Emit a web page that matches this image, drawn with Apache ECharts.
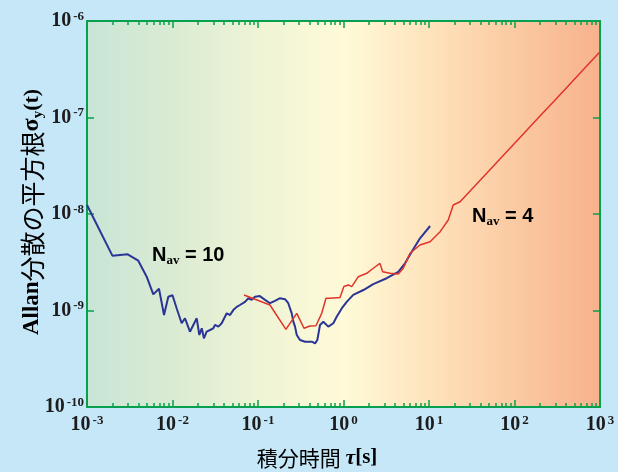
<!DOCTYPE html>
<html><head><meta charset="utf-8">
<script src="https://cdn.jsdelivr.net/npm/echarts@6/dist/echarts.min.js"></script>
<style>html,body{margin:0;padding:0;background:#c6e7f8;}#c{width:618px;height:472px;}</style>
</head><body><div id="c"></div>
<script>
const xTicks = [1e-3, 1e-2, 1e-1, 1, 10, 100, 1000];
const yTicks = [1e-10, 1e-9, 1e-8, 1e-7, 1e-6];
const minorMultipliers = [2, 3, 4, 5, 6, 7, 8, 9];

const blueX = [0.001,0.00198,0.00299,0.00398,0.00499,0.00596,0.00695,0.00796,0.00893,0.0100,0.0112,0.0128,0.0140,0.0160,0.0192,0.0206,0.0220,0.0233,0.0251,0.0275,0.0300,0.0314,0.0344,0.0376,0.0393,0.0431,0.0471,0.0514,0.0564,0.0615,0.0705,0.0771,0.0843,0.0923,0.105,0.121,0.138,0.158,0.181,0.207,0.226,0.248,0.259,0.271,0.284,0.310,0.355,0.425,0.465,0.494,0.531,0.581,0.664,0.760,0.832,0.953,1.09,1.30,1.71,2.23,3.20,4.37,5.24,6.28,7.85,10.3];
const blueY = [1.24e-8,3.70e-9,3.82e-9,3.28e-9,2.24e-9,1.47e-9,1.68e-9,8.98e-10,1.39e-9,1.44e-9,1.05e-9,7.37e-10,8.3e-10,6.03e-10,8.3e-10,5.57e-10,6.54e-10,5.15e-10,6.03e-10,6.28e-10,6.54e-10,7.08e-10,6.80e-10,7.37e-10,7.97e-10,9.35e-10,8.98e-10,1.01e-9,1.09e-9,1.14e-9,1.23e-9,1.34e-9,1.29e-9,1.39e-9,1.41e-9,1.29e-9,1.19e-9,1.26e-9,1.34e-9,1.31e-9,1.19e-9,9.35e-10,7.66e-10,6.80e-10,5.57e-10,4.94e-10,4.75e-10,4.75e-10,4.57e-10,4.94e-10,7.08e-10,7.66e-10,6.80e-10,7.37e-10,8.63e-10,1.05e-9,1.23e-9,1.45e-9,1.63e-9,1.88e-9,2.16e-9,2.52e-9,3.08e-9,4.06e-9,5.60e-9,7.51e-9];

const redX = [0.0686,0.138,0.212,0.284,0.345,0.406,0.476,0.556,0.624,0.695,0.910,1.01,1.14,1.25,1.49,1.87,2.23,2.67,2.87,3.50,4.37,5.00,6.00,7.85,10.3,13.5,16.8,19.2,23.1,39.4,47.3,67.6,116,174,284,446,668,1000];
const redY = [1.45e-9,1.14e-9,6.38e-10,9.35e-10,6.54e-10,6.91e-10,6.95e-10,9.35e-10,1.34e-9,1.34e-9,1.36e-9,1.77e-9,1.84e-9,1.77e-9,2.24e-9,2.43e-9,2.74e-9,3.08e-9,2.52e-9,2.43e-9,2.39e-9,2.74e-9,3.92e-9,4.77e-9,5.16e-9,6.56e-9,8.67e-9,1.24e-8,1.34e-8,2.23e-8,2.65e-8,3.72e-8,6.22e-8,9.12e-8,1.45e-7,2.23e-7,3.27e-7,4.81e-7];

const labelBlue = 'N|av| = 10';
const labelRed = 'N|av| = 4';

const xMinor = [];
for (let i = 0; i < xTicks.length - 1; i++) {
  for (const k of minorMultipliers) xMinor.push(+(xTicks[i] * k).toPrecision(3));
}

const GREEN = '#07a04e';
const SERIF = '"Liberation Serif","Times New Roman",serif';
const SANS = '"Liberation Sans",Arial,sans-serif';
const CJK = '"Noto Sans CJK JP",sans-serif';
const INK = '#1c1c1c';

const tickRich = {
  b: {fontSize: 20, fontWeight: 'bold', fontFamily: SERIF, color: INK, lineHeight: 22, verticalAlign: 'middle'},
  s: {fontSize: 13, fontWeight: 'bold', fontFamily: SERIF, color: INK, lineHeight: 13, verticalAlign: 'top', padding: [0, 0, 0, 2]}
};
const fmt = v => '{b|10}{s|' + Math.round(Math.log10(v)) + '}';

function xAx(pos, ticks, len, showLine, showLabel) {
  return {
    type: 'log', logBase: 10, min: 1e-3, max: 1e3, position: pos,
    axisLine: {show: showLine, lineStyle: {color: GREEN, width: 2}},
    axisTick: {show: true, inside: true, length: len, customValues: ticks, lineStyle: {color: GREEN, width: 1.5}},
    axisLabel: showLabel ? {customValues: xTicks, formatter: fmt, rich: tickRich, margin: 7} : {show: false},
    splitLine: {show: false}, minorTick: {show: false}
  };
}
function yAx(pos, showLabel) {
  return {
    type: 'log', logBase: 10, min: 1e-10, max: 1e-6, position: pos,
    axisLine: {show: true, lineStyle: {color: GREEN, width: 2}},
    axisTick: {show: true, inside: true, length: 7, customValues: yTicks, lineStyle: {color: GREEN, width: 1.5}},
    axisLabel: showLabel ? {customValues: yTicks, formatter: fmt, rich: tickRich, margin: 3} : {show: false},
    splitLine: {show: false}
  };
}

function annot(str) {
  const p = str.split('|');
  return '{n|' + p[0] + '}{s|' + p[1] + '}{n|' + p[2] + '}';
}
const annotRich = {
  n: {fontSize: 20, fontWeight: 'bold', fontFamily: SANS, color: '#222', lineHeight: 24, verticalAlign: 'middle'},
  s: {fontSize: 13, fontWeight: 'bold', fontFamily: SERIF, color: '#222', lineHeight: 13, verticalAlign: 'bottom'}
};

const chart = echarts.init(document.getElementById('c'), null, {renderer: 'canvas'});
chart.setOption({
  backgroundColor: '#c6e7f8',
  animation: false,
  grid: {
    left: 87, right: 18, top: 21, bottom: 65, show: true, borderWidth: 0,
    backgroundColor: new echarts.graphic.LinearGradient(0, 0, 1, 0, [
      {offset: 0, color: '#c8e5d6'}, {offset: 0.167, color: '#daebd3'},
      {offset: 0.333, color: '#eef4d5'}, {offset: 0.5, color: '#fffad8'},
      {offset: 0.667, color: '#fee3bc'}, {offset: 0.833, color: '#fbcaa2'},
      {offset: 1, color: '#f7b28c'}])
  },
  xAxis: [
    xAx('bottom', xTicks, 7, true, true),
    xAx('bottom', xMinor, 4, false, false),
    xAx('top', xTicks, 7, true, false),
    xAx('top', xMinor, 4, false, false)
  ],
  yAxis: [yAx('left', true), yAx('right', false)],
  series: [
    {type: 'line', name: 'Nav=4', xAxisIndex: 0, yAxisIndex: 0, showSymbol: false, z: 3,
     lineStyle: {color: '#e0342a', width: 1.5}, itemStyle: {color: '#e0342a'},
     data: redX.map((x, i) => [x, redY[i]])},
    {type: 'line', name: 'Nav=10', xAxisIndex: 0, yAxisIndex: 0, showSymbol: false, z: 2,
     lineStyle: {color: '#2b3596', width: 2}, itemStyle: {color: '#2b3596'},
     data: blueX.map((x, i) => [x, blueY[i]])}
  ],
  graphic: [
    {type: 'text', x: 152, y: 255, style: {text: annot(labelBlue), rich: annotRich, align: 'left', verticalAlign: 'middle'}},
    {type: 'text', x: 472, y: 216, style: {text: annot(labelRed), rich: annotRich, align: 'left', verticalAlign: 'middle'}},
    {type: 'text', x: 32, y: 212, rotation: Math.PI / 2, style: {
      text: '{a|Allan}{c|分散の平方根}{g|σ}{y|y}{p|(t)}', align: 'center', verticalAlign: 'middle',
      rich: {
        a: {fontSize: 23, fontWeight: 'bold', fontFamily: SERIF, color: INK, lineHeight: 28, verticalAlign: 'middle'},
        c: {fontSize: 25, fontFamily: CJK, color: INK, lineHeight: 28, verticalAlign: 'middle'},
        g: {fontSize: 24, fontWeight: 'bold', fontFamily: SERIF, color: INK, lineHeight: 28, verticalAlign: 'middle'},
        y: {fontSize: 15, fontWeight: 'bold', fontFamily: SERIF, color: INK, lineHeight: 15, verticalAlign: 'bottom'},
        p: {fontSize: 22, fontWeight: 'bold', fontFamily: SERIF, color: INK, lineHeight: 28, verticalAlign: 'middle'}
      }}},
    {type: 'text', x: 317, y: 458, style: {
      text: '{c|積分時間 }{t|τ}{s|[s]}', align: 'center', verticalAlign: 'middle',
      rich: {
        c: {fontSize: 21, fontFamily: CJK, color: INK, lineHeight: 24, verticalAlign: 'middle'},
        t: {fontSize: 22, fontWeight: 'bold', fontStyle: 'italic', fontFamily: SERIF, color: INK, lineHeight: 24, verticalAlign: 'middle'},
        s: {fontSize: 21, fontWeight: 'bold', fontFamily: SERIF, color: INK, lineHeight: 24, verticalAlign: 'middle'}
      }}}
  ]
});
</script></body></html>
